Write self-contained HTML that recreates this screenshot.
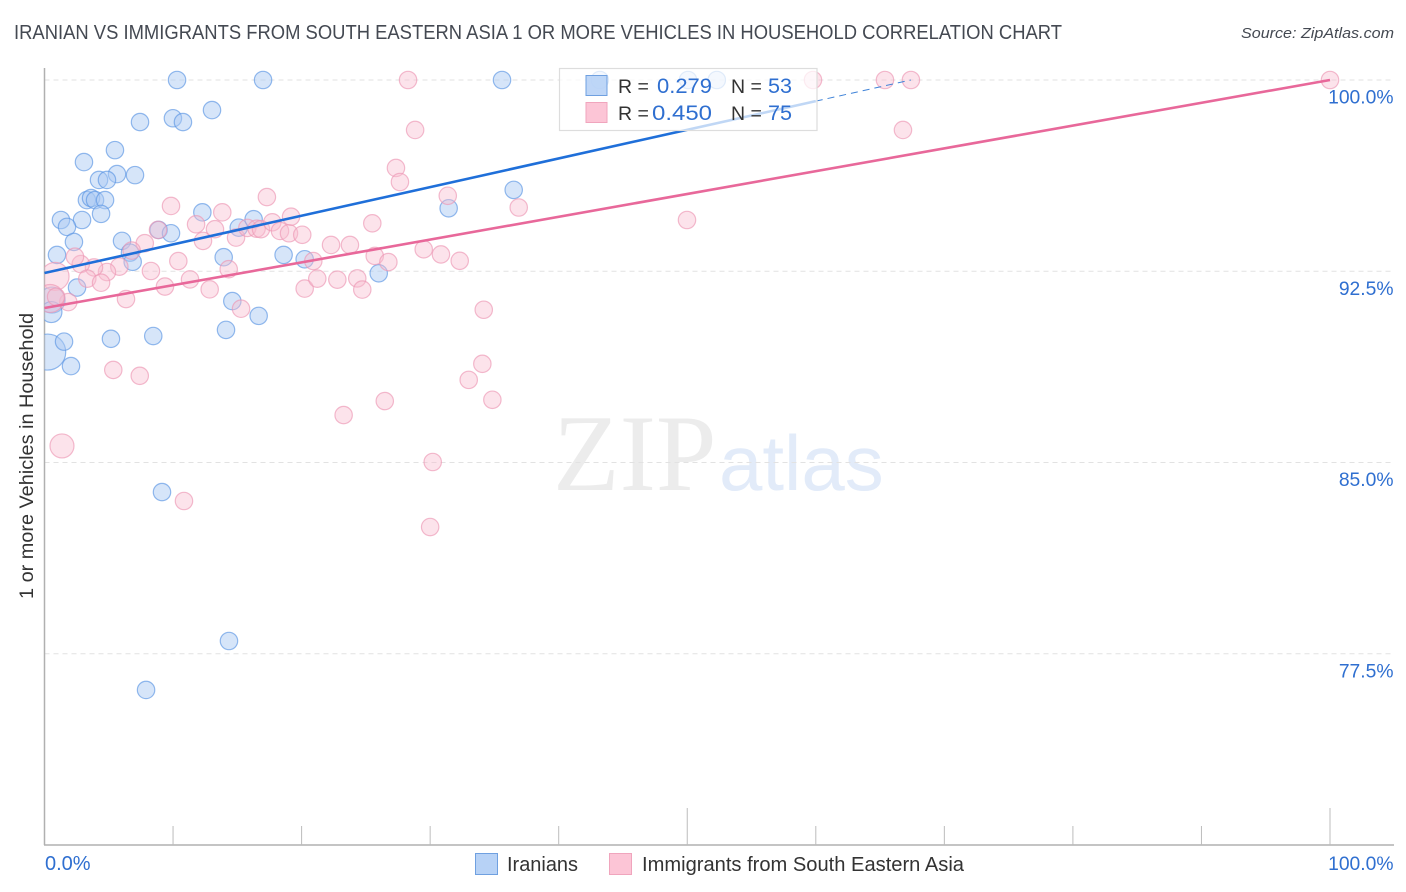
<!DOCTYPE html>
<html lang="en">
<head>
<meta charset="utf-8">
<title>Iranian vs Immigrants from South Eastern Asia correlation chart</title>
<style>
html,body{margin:0;padding:0;background:#fff;}
svg{display:block;font-family:"Liberation Sans",sans-serif;}
</style>
</head>
<body>
<svg id="chart" xmlns="http://www.w3.org/2000/svg" width="1406" height="892" viewBox="0 0 1406 892">
  <defs>
    <clipPath id="plot-clip"><rect x="44.5" y="68" width="1350" height="777"></rect></clipPath>
  </defs>
  <rect x="0" y="0" width="1406" height="892" fill="#ffffff"></rect>
  <text x="14" y="39" font-size="20" fill="#444952" textLength="1048" lengthAdjust="spacingAndGlyphs">IRANIAN VS IMMIGRANTS FROM SOUTH EASTERN ASIA 1 OR MORE VEHICLES IN HOUSEHOLD CORRELATION CHART</text>
  <text x="1394" y="38" font-size="15" font-style="italic" fill="#444952" text-anchor="end" textLength="153" lengthAdjust="spacingAndGlyphs">Source: ZipAtlas.com</text>
  <g>
    <text x="553" y="490" font-family="'Liberation Serif',serif" font-size="109" fill="#ececec">ZIP</text>
    <text x="719" y="490" font-size="78" fill="#e2ebf9">atlas</text>
  </g>
  <g id="grid"></g>
  <g id="axes"></g>
  <g id="marks" clip-path="url(#plot-clip)"></g>
  <g id="trends"></g>
  <g>
    <rect x="559.5" y="68.5" width="257.5" height="62" fill="#ffffff" fill-opacity="0.72" stroke="#dddddd" stroke-width="1.2"></rect>
    <rect x="586" y="75.5" width="21" height="20" fill="#b7d2f6" fill-opacity="0.9" stroke="#6fa0e0"></rect>
    <rect x="586" y="102.5" width="21" height="20" fill="#fcc5d6" stroke="#f0a5bd"></rect>
    <g font-size="19.5" fill="#333333">
      <text x="618" y="93">R =</text>
      <text x="731" y="93">N =</text>
      <text x="618" y="120">R =</text>
      <text x="731" y="120">N =</text>
    </g>
    <g font-size="21.5" fill="#2f6fd0">
      <text x="657" y="93" textLength="55" lengthAdjust="spacingAndGlyphs">0.279</text>
      <text x="768" y="93" textLength="24" lengthAdjust="spacingAndGlyphs">53</text>
      <text x="652" y="120" textLength="60" lengthAdjust="spacingAndGlyphs">0.450</text>
      <text x="768" y="120" textLength="24" lengthAdjust="spacingAndGlyphs">75</text>
    </g>
  </g>
  <g>
    <rect x="475.5" y="853.5" width="22" height="21" fill="#b7d2f6" stroke="#6fa0e0"></rect>
    <text x="507" y="871" font-size="20" fill="#333333" textLength="71" lengthAdjust="spacingAndGlyphs">Iranians</text>
    <rect x="609.5" y="853.5" width="22" height="21" fill="#fcc5d6" stroke="#f0a5bd"></rect>
    <text x="642" y="871" font-size="20" fill="#333333" textLength="322" lengthAdjust="spacingAndGlyphs">Immigrants from South Eastern Asia</text>
  </g>
</svg>
<script>
/* x = share of Immigrants from South Eastern Asia (%), y = 1 or more vehicles (%), s = bubble radius class */
const iranianX = [10.31,17.0,35.59,43.2,50.06,52.3,13.03,7.43,9.99,10.77,5.48,3.07,5.64,7.04,4.24,4.86,3.3,3.62,3.93,4.71,4.4,1.28,2.92,1.75,2.29,6.03,6.65,6.86,0.97,2.53,0.59,0.54,0.25,1.52,2.06,5.17,8.46,14.12,14.61,16.66,8.88,9.84,12.28,13.94,15.11,16.27,18.6,20.24,26.0,31.44,36.5,9.14,14.35,7.9];
const iranianY = [100,100,100,100,100,100,98.82,98.35,98.5,98.35,97.25,96.78,96.31,96.27,96.08,96.08,95.29,95.37,95.29,95.29,94.75,94.51,94.51,94.24,93.65,93.69,93.23,92.87,93.14,91.86,91.37,90.9,89.33,89.74,88.78,89.85,89.96,90.2,91.33,90.75,94.12,93.99,94.81,93.05,94.21,94.54,93.14,92.97,92.42,94.97,95.69,83.84,78.0,76.08];
const iranianSize = [8.7,8.7,8.7,8.7,8.7,8.7,8.7,8.7,8.7,8.7,8.7,8.7,8.7,8.7,8.7,8.7,8.7,8.7,8.7,8.7,8.7,8.7,8.7,8.7,8.7,8.7,8.7,8.7,8.7,8.7,13,10.5,18,8.7,8.7,8.7,8.7,8.7,8.7,8.7,8.7,8.7,8.7,8.7,8.7,8.7,8.7,8.7,8.7,8.7,8.7,8.7,8.7,8.7];
const immigrantX = [28.28,59.78,65.38,67.4,100,28.83,66.78,27.34,27.65,17.3,31.37,36.89,49.98,9.84,13.83,11.79,13.26,12.33,14.9,8.83,15.78,16.5,16.84,17.72,18.32,19.02,19.18,20.05,22.29,23.76,25.5,25.69,26.75,29.5,30.84,32.3,34.17,34.06,33.0,34.84,26.47,23.27,30.2,30.0,10.85,1.36,5.35,7.41,6.34,9.37,8.28,11.32,10.41,12.85,14.33,15.29,20.24,21.22,20.91,22.78,24.33,24.72,7.8,6.78,5.82,4.86,3.85,2.82,2.37,3.33,4.4,1.85,0.82,0.44,0.9];
const immigrantY = [100,100,100,100,100,98.04,98.04,96.55,96.0,95.41,95.46,95.0,94.51,95.06,94.81,94.34,94.15,93.69,93.82,94.12,94.2,94.17,94.15,94.42,94.08,93.99,94.64,93.93,93.53,93.53,94.38,93.1,92.86,93.36,93.16,92.91,90.99,88.87,88.24,87.46,87.41,86.86,85.02,82.47,83.49,85.65,88.63,88.4,91.41,91.9,92.51,92.18,92.9,91.79,92.58,91.03,91.82,92.21,92.9,92.17,92.22,91.78,93.6,93.31,92.68,92.47,92.65,92.78,93.07,92.21,92.05,91.29,92.3,91.43,91.5];
const immigrantSize = [8.7,8.7,8.7,8.7,8.7,8.7,8.7,8.7,8.7,8.7,8.7,8.7,8.7,8.7,8.7,8.7,8.7,8.7,8.7,8.7,8.7,8.7,8.7,8.7,8.7,8.7,8.7,8.7,8.7,8.7,8.7,8.7,8.7,8.7,8.7,8.7,8.7,8.7,8.7,8.7,8.7,8.7,8.7,8.7,8.7,12,8.7,8.7,8.7,8.7,8.7,8.7,8.7,8.7,8.7,8.7,8.7,8.7,8.7,8.7,8.7,8.7,8.7,8.7,8.7,8.7,8.7,8.7,8.7,8.7,8.7,8.7,14,14,8.7];
const iranianTrendX = [0,60];
const iranianTrendY = [92.43,99.17];
const iranianDashX = [60,67.4];
const iranianDashY = [99.17,100];
const immigrantTrendX = [0,100];
const immigrantTrendY = [91.06,100];
const yTicks = [100,92.5,85,77.5];
const yTickLabels = ["100.0%","92.5%","85.0%","77.5%"];
const xTicks = [0,10,20,30,40,50,60,70,80,90,100];
const xMajorTicks = [50,100];
const xTickLabels = ["0.0%","100.0%"];
const xTickLabelValues = [0,100];
const yAxisTitle = "1 or more Vehicles in Household";

const NS = "http://www.w3.org/2000/svg";
function xScale(v){ return 44.5 + v * 12.855; }
function yScale(v){ return 80 + (100 - v) * 25.5; }
function make(tag, attrs, parent){
  const el = document.createElementNS(NS, tag);
  for (const k in attrs) el.setAttribute(k, attrs[k]);
  parent.appendChild(el);
  return el;
}
const gridG = document.getElementById("grid");
const axesG = document.getElementById("axes");
const marksG = document.getElementById("marks");
const trendsG = document.getElementById("trends");

yTicks.forEach(function(t, i){
  const y = yScale(t);
  const line = make("line", {x1:44.5, x2:1394, y1:y, y2:y, stroke:"#e2e2e2", "stroke-width":1, "stroke-dasharray":"5 4"}, gridG);
  
  
  const label = make("text", {x:1393.5, y:y + 23.5, "font-size":19.3, fill:"#2f6fd0", "text-anchor":"end"}, axesG);
  
  
  label.textContent = yTickLabels[i];
});

const yAxis = make("line", {x1:44.5, x2:44.5, y1:68, y2:845, stroke:"#b0b0b0", "stroke-width":1.5}, axesG);


const xAxis = make("line", {x1:44, x2:1394, y1:845, y2:845, stroke:"#b0b0b0", "stroke-width":1.5}, axesG);



xTicks.forEach(function(t){
  if (t === 0) return;
  const x = xScale(t);
  const top = xMajorTicks.indexOf(t) >= 0 ? 808 : 826;
  const tick = make("line", {x1:x, x2:x, y1:top, y2:845, stroke:"#bcbcbc", "stroke-width":1}, axesG);
  
  
});
xTickLabelValues.forEach(function(t, i){
  const isLast = t === 100;
  const label = make("text", {x:isLast ? 1393.5 : xScale(t) + 0.5, y:870, "font-size":isLast ? 19.3 : 20, fill:"#2f6fd0", "text-anchor":isLast ? "end" : "start"}, axesG);
  
  
  label.textContent = xTickLabels[i];
});
const yTitle = make("text", {x:0, y:0, "font-size":19.5, fill:"#333333", "text-anchor":"middle", transform:"translate(33 456) rotate(-90)", textLength:286, lengthAdjust:"spacingAndGlyphs"}, axesG);


yTitle.textContent = yAxisTitle;

iranianX.forEach(function(v, i){
  const c = make("circle", {cx:xScale(v), cy:yScale(iranianY[i]), r:iranianSize[i], fill:"#a9c9f3", "fill-opacity":0.48, stroke:"#5b95e4", "stroke-opacity":0.65, "stroke-width":1.2}, marksG);
  
  
});
immigrantX.forEach(function(v, i){
  const c = make("circle", {cx:xScale(v), cy:yScale(immigrantY[i]), r:immigrantSize[i], fill:"#f9bdd0", "fill-opacity":0.42, stroke:"#ec97b3", "stroke-opacity":0.65, "stroke-width":1.2}, marksG);
  
  
});

const blueLine = make("line", {x1:xScale(iranianTrendX[0]), y1:yScale(iranianTrendY[0]), x2:xScale(iranianTrendX[1]), y2:yScale(iranianTrendY[1]), stroke:"#1f6fd9", "stroke-width":2.6}, trendsG);


const blueDash = make("line", {x1:xScale(iranianDashX[0]), y1:yScale(iranianDashY[0]), x2:xScale(iranianDashX[1]), y2:yScale(iranianDashY[1]), stroke:"#3f83d8", "stroke-width":1, "stroke-dasharray":"7 5"}, trendsG);


const pinkLine = make("line", {x1:xScale(immigrantTrendX[0]), y1:yScale(immigrantTrendY[0]), x2:xScale(immigrantTrendX[1]), y2:yScale(immigrantTrendY[1]), stroke:"#e8689a", "stroke-width":2.6}, trendsG);


</script>
</body>
</html>
